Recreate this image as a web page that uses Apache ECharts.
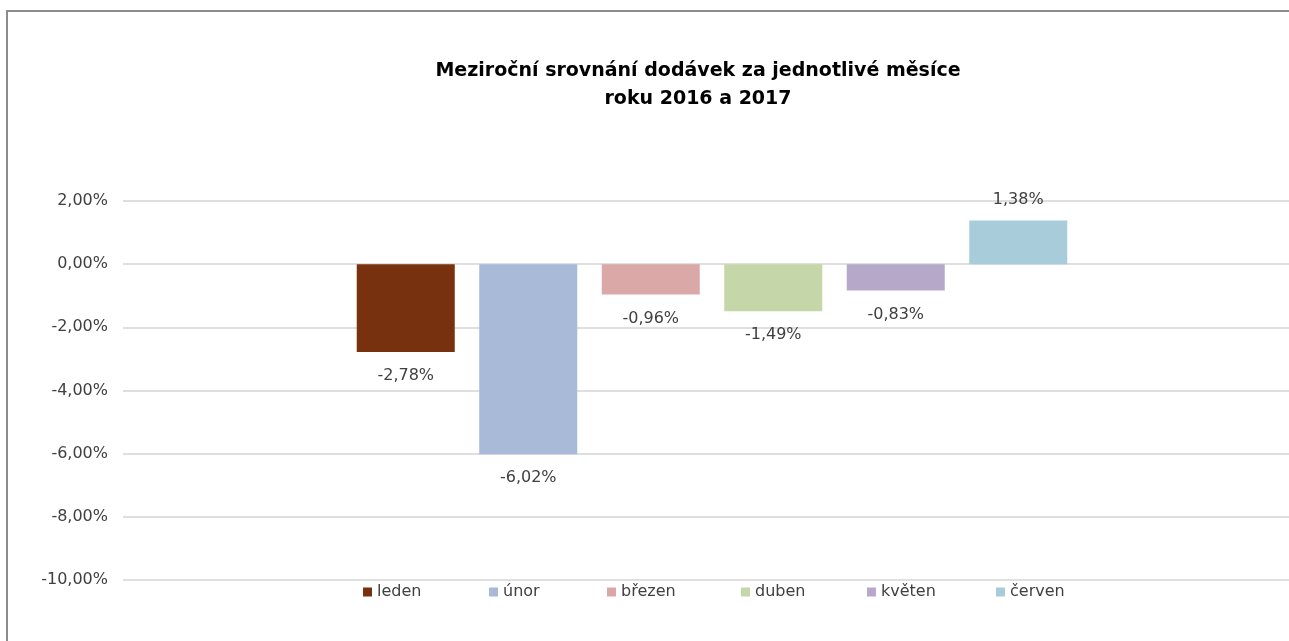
<!DOCTYPE html>
<html>
<head>
<meta charset="utf-8">
<script src="https://cdn.jsdelivr.net/npm/echarts@6/dist/echarts.min.js"></script>
<style>html,body{margin:0;padding:0;background:#fff;}#c{width:1289px;height:641px;}</style>
</head>
<body>
<div id="c"></div>
<script>
const months = ['leden', 'únor', 'březen', 'duben', 'květen', 'červen'];
const values = [-2.78, -6.02, -0.96, -1.49, -0.83, 1.38];
const colors = ['#78310f', '#a9b9d8', '#dba8a8', '#c5d7a9', '#b6a8c9', '#a8ccd9'];
const titleLines = ['Meziroční srovnání dodávek za jednotlivé měsíce', 'roku 2016 a 2017'];
const yMin = -10, yMax = 2, yStep = 2;

const fmt = v => v.toFixed(2).replace('.', ',') + '%';
const FONT = 'DejaVu Sans';
const legendLeft = [363, 489, 607, 741, 867, 996];

const chart = echarts.init(document.getElementById('c'));
chart.setOption({
  animation: false,
  backgroundColor: '#fff',
  textStyle: { fontFamily: FONT },
  graphic: [{
    type: 'rect', silent: true,
    shape: { x: 7, y: 11, width: 1320, height: 700 },
    style: { fill: 'none', stroke: '#8c8c8c', lineWidth: 2 }
  }],
  title: {
    text: titleLines.join('\n'),
    left: 693, top: 52, textAlign: 'center',
    textStyle: { fontFamily: FONT, fontSize: 19, fontWeight: 'bold', color: '#000', lineHeight: 28 }
  },
  legend: months.map((m, i) => ({
    data: [m],
    left: legendLeft[i], top: 584,
    itemWidth: 9, itemHeight: 9, itemGap: 0,
    icon: 'rect', padding: 0,
    textStyle: { fontFamily: FONT, fontSize: 16, color: '#404040' }
  })),
  grid: { left: 123, right: -12, top: 201, bottom: 61, containLabel: false, outerBoundsMode: 'none' },
  xAxis: {
    type: 'category', data: [''],
    axisLine: { show: false }, axisTick: { show: false }, axisLabel: { show: false }
  },
  yAxis: {
    type: 'value', min: yMin, max: yMax, interval: yStep,
    axisLine: { show: false }, axisTick: { show: false },
    axisLabel: { formatter: v => fmt(v), fontFamily: FONT, fontSize: 16, color: '#404040', margin: 15 },
    splitLine: { lineStyle: { color: '#d4d4d4', width: 1.5 } }
  },
  series: months.map((m, i) => ({
    name: m, type: 'bar',
    data: [values[i]],
    barWidth: 98, barGap: '25%',
    itemStyle: { color: colors[i] },
    label: {
      show: true,
      position: values[i] < 0 ? 'bottom' : 'top',
      distance: values[i] < 0 ? 16 : 13,
      formatter: p => fmt(p.value),
      fontFamily: FONT, fontSize: 16, color: '#404040'
    }
  }))
});
</script>
</body>
</html>
